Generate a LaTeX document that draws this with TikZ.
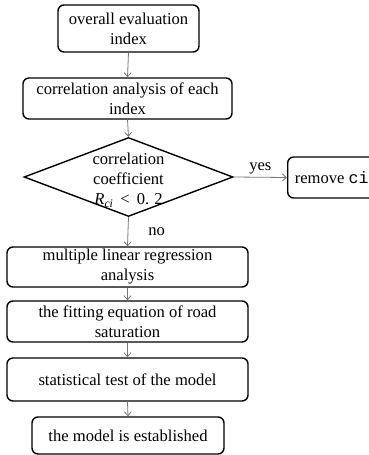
\documentclass[tikz,border=0pt]{standalone}
\usepackage{fontspec}
\setmainfont{Liberation Serif}
\newfontfamily\monofont{Liberation Mono}
\usetikzlibrary{shapes.geometric,arrows.meta}
\definecolor{arrowgray}{RGB}{120,120,120}

\begin{document}
\begin{tikzpicture}[x=1pt,y=-1pt,
  txt/.style={align=center,font=\fontsize{16.6}{20}\selectfont,inner sep=0pt},
  box/.style={txt,draw=black,line width=1.4pt,rounded corners=6pt},
  flow/.style={draw=arrowgray,line width=0.8pt,-{Straight Barb[length=4pt,width=7pt]}}]
  \useasboundingbox (0,0) rectangle (368,455);

  % process boxes
  \node[box,minimum width=141pt,minimum height=47pt] (overall) at (128.5,28.5) {overall evaluation\\index};
  \node[box,minimum width=209pt,minimum height=41pt] (corr) at (127.5,98.5) {correlation analysis of each\\index};

  % decision
  \node[draw=black,line width=1.4pt,diamond,minimum width=209pt,minimum height=79pt,inner sep=0pt] (dec) at (128.5,177) {};
  \node[txt] (dectext) at (128.5,180) {correlation\\coefficient\\\textit{R}\textsubscript{\textit{ci}}\hspace{7pt}<\hspace{7pt}0.\hspace{5pt}2};

  \node[box,minimum width=110pt,minimum height=41pt,anchor=west] (remove) at (287,177.5) {\hspace{-6pt}remove {\monofont ci}\hspace{16pt}};

  \node[box,minimum width=241pt,minimum height=40pt] (mlr) at (127.5,267) {multiple linear regression\\analysis};
  \node[box,minimum width=241pt,minimum height=41pt] (fit) at (127.5,321.5) {the fitting equation of road\\saturation};
  \node[box,minimum width=241pt,minimum height=43pt] (test) at (127.5,379.5) {statistical test of the model};
  \node[box,minimum width=192pt,minimum height=37pt] (done) at (128,435.5) {the model is established};

  % connectors
  \draw[flow] (overall.south) -- (corr.north);
  \draw[flow] (corr.south) -- (dec.north);
  \draw[flow] (dec.east) -- node[txt,above=3pt] {yes} (remove.west);
  \draw[flow] (dec.south) -- node[txt,right=20pt] {no} (mlr.north);
  \draw[flow] (mlr.south) -- (fit.north);
  \draw[flow] (fit.south) -- (test.north);
  \draw[flow] (test.south) -- (done.north);
\end{tikzpicture}
\end{document}
